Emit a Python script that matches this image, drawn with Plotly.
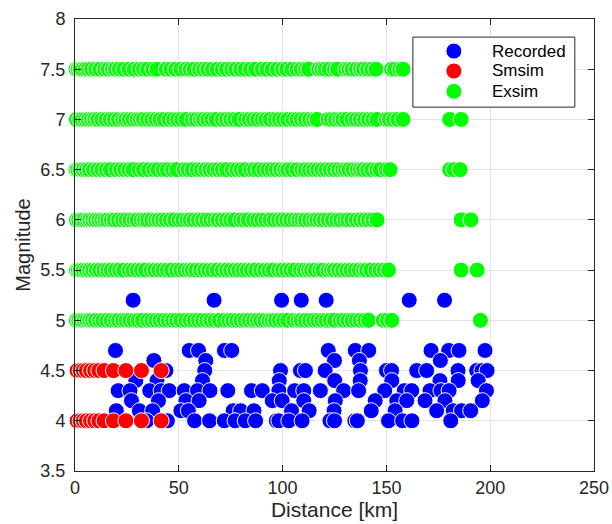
import plotly.graph_objects as go

# ---- Recorded events: distance (km) per magnitude ----
rec_m52 = [28, 67, 99.5, 109, 121, 161, 178]
rec_m47 = [19.5, 55, 59.5, 72, 75.5, 122, 135, 141.5, 171.5, 180, 185, 197.5]
rec_m46 = [38, 63, 125, 137, 176]
rec_m45 = [43.8, 62.5, 99, 108.6, 111, 120.5, 137.5, 150, 152.5, 164.6, 169.4, 184.5, 193.5, 196, 198.5]
rec_m44 = [29.3, 39.5, 61.4, 98.4, 125.1, 137.4, 152.6, 175.8, 184.6, 194.2]
rec_m43 = [20.8, 26.5, 36, 41.5, 45.4, 52.6, 59, 65, 73.6, 85, 90.2, 98.2, 105.8, 110.2, 118.2,
           129.4, 136.6, 149.2, 158.6, 162.2, 171, 176.3, 180.2, 198.2]
rec_m42 = [27.2, 40.2, 53.4, 59.8, 95, 99.8, 110.2, 125.4, 144.6, 155, 159.8, 168.6, 178.2, 196.2]
rec_m41 = [19.9, 31, 37.4, 51, 54.6, 76.2, 79.8, 86.2, 104.3, 112.8, 124.8, 142.7, 154.2, 174.2,
           182.2, 186.2, 190.6]
rec_m40 = [34.5, 44.5, 57.6, 64.8, 71.9, 77.1, 82, 87, 97, 98.2, 103, 109.4, 122.8, 125, 134.8, 136,
           151, 157.8, 162.3, 181]

# ---- Smsim simulations ----
sms_dist = [1, 2.5, 4, 5.5, 7.5, 9.5, 11.5, 14, 18.5, 24.5, 32, 41.5]
sms_mags = [4.0, 4.5]

# ---- Exsim simulations ----
exs_m75 = [0.5, 1.5, 2.5, 3.5, 5, 6.5, 8, 10, 12, 14.3, 16, 18, 19.5, 21.4, 23.5, 26, 28.5, 31, 33,
           35, 37.5, 39.5, 44, 46.2, 48.5, 51, 53.5, 55.5, 57.4, 60, 62, 64, 66.2, 68.5, 71, 73, 75.5,
           77.5, 79.8, 82, 84.5, 87, 90.2, 92.5, 95, 97.5, 100, 102, 104.5, 107, 109, 111, 112.5,
           117.4, 119, 120.5, 122.5, 125, 126.5, 130.5, 132, 133.5, 135.5, 137.5, 139, 141, 143, 145,
           152.5, 154, 156.5, 158]
exs_m70 = [0.7, 2.3, 3.5, 5, 6.5, 8, 9.5, 11, 13, 15, 17, 19, 21, 23, 24.5, 26.2, 28, 30, 31.5, 33,
           35, 37, 39, 41, 43, 45.4, 47.5, 49.5, 51.5, 53.5, 56.6, 58.5, 60.5, 62, 64, 66, 68, 71, 73,
           75, 77, 79, 82.2, 84, 86, 88, 90.2, 92, 94, 96.6, 98.5, 100.5, 102.5, 105, 107, 109, 111,
           113, 115, 116.6, 122, 123.5, 125.5, 127.5, 129, 131, 133.5, 135.5, 137.5, 139.5, 141.5,
           143.5, 145.5, 150, 151.5, 153.5, 155.5, 158, 180.5, 186]
exs_m65 = [0.5, 1.4, 2.5, 4, 5.5, 7, 9, 11, 13, 15, 17, 19.9, 22, 24, 26, 28, 31, 33, 35.5, 38, 40,
           42.5, 44.5, 47, 49, 52.6, 54.5, 56.5, 59, 61, 63, 65, 67, 69, 71, 73, 75.8, 78, 80, 82,
           84.6, 86.5, 88.5, 91, 93, 95, 97, 99, 101, 102.5, 104.6, 107, 109.4, 111, 113, 115, 117,
           119, 121, 123, 125, 127, 129, 130.5, 132, 134, 136, 137.5, 139, 141, 143, 145.4, 147, 150,
           151.8, 180.5, 182.5, 185.5]
exs_m60 = [0.7, 1.8, 3, 4.5, 6, 7.2, 8.6, 10, 11.5, 13, 14.5, 15.8, 17.5, 19, 21, 23, 24.7, 26.5,
           28.5, 30, 32, 33.5, 35, 37, 39, 40.5, 42.2, 44, 46, 48, 50.2, 52, 54, 55.5, 57.4, 59.5,
           61.5, 63.5, 65.5, 67.5, 69, 71, 73, 75, 77, 79.8, 81.5, 83.5, 86, 88, 90, 92, 94, 96, 98.2,
           100, 102, 104, 106, 107.8, 109.4, 111, 113, 115, 116.5, 118.2, 120, 122, 124, 126.2, 128,
           130, 131.5, 133.4, 135.5, 137.5, 139.5, 141.4, 143.5, 145.5, 186, 190.7]
exs_m55 = [0.7, 1.6, 2.6, 4, 5.5, 7, 8.6, 10.3, 12, 14, 15.8, 17.5, 19.5, 21.5, 23.5, 26.2, 28, 30,
           32, 34, 36.7, 38.5, 40.5, 42.5, 44.5, 46.5, 49, 51, 53, 55, 56.5, 58.3, 60.5, 62.5, 64.5,
           66.5, 68.5, 71, 73, 75, 77, 79, 81, 83, 85, 87, 89.4, 91.5, 93.5, 95.5, 98.2, 100, 102, 104,
           106, 108.6, 110.5, 112.5, 114, 115.8, 118, 119.5, 121.9, 123.5, 125, 127, 129, 131, 133,
           135, 137, 139, 140.5, 142.5, 145, 147, 149, 151, 186, 193.7]
exs_m50 = [0.7, 1.8, 3, 4.5, 5.8, 7.1, 8.5, 10, 11.9, 13.5, 15.5, 17.5, 19.5, 21, 23, 24.7, 26.5,
           28.5, 30.5, 32.5, 35, 37, 39, 41, 43, 45, 47, 49, 51, 53.4, 55.5, 57.5, 59.5, 61.5, 63.5,
           65.4, 67.5, 69.5, 72, 74.2, 76, 78, 80, 82, 84, 86, 87.8, 89.5, 91.5, 93.5, 95, 96.6, 98.5,
           100.5, 102.5, 105.4, 107.5, 109, 111, 113, 115, 117, 119, 121, 123, 125, 127.8, 129.5,
           131.5, 133.5, 135.5, 137.4, 139.5, 141.4, 148.5, 150.5, 152.6, 195.3]

x_ticks = [0, 50, 100, 150, 200, 250]
y_ticks = [3.5, 4, 4.5, 5, 5.5, 6, 6.5, 7, 7.5, 8]

series_names = ["Recorded", "Smsim", "Exsim"]
series_colors = ["#0000ff", "#ff0000", "#00ff00"]


def flatten(groups):
    xs, ys = [], []
    for mag, dists in groups:
        xs.extend(dists)
        ys.extend([mag] * len(dists))
    return xs, ys


rec_x, rec_y = flatten([(5.2, rec_m52), (4.7, rec_m47), (4.6, rec_m46), (4.5, rec_m45),
                        (4.4, rec_m44), (4.3, rec_m43), (4.2, rec_m42), (4.1, rec_m41),
                        (4.0, rec_m40)])
sms_x, sms_y = flatten([(m, sms_dist) for m in sms_mags])
exs_x, exs_y = flatten([(7.5, exs_m75), (7.0, exs_m70), (6.5, exs_m65), (6.0, exs_m60),
                        (5.5, exs_m55), (5.0, exs_m50)])

FONT = "Liberation Sans, Arial, Helvetica, sans-serif"
AXIS_COLOR = "#262626"
GRID_COLOR = "#e3e3e3"
MSIZE = 16


def marker(color):
    return dict(color=color, size=MSIZE, line=dict(color="white", width=1))


fig = go.Figure()
for name, color, xs, ys in zip(series_names, series_colors,
                               [rec_x, sms_x, exs_x], [rec_y, sms_y, exs_y]):
    fig.add_trace(go.Scatter(x=xs, y=ys, mode="markers", name=name, cliponaxis=False,
                             marker=marker(color), showlegend=False))

# Legend box drawn on an overlay axis spanning the plot area (0..1 in both directions)
box_x0, box_x1, box_y0, box_y1 = 0.651, 0.963, 0.805, 0.960
fig.add_trace(go.Scatter(
    x=[box_x0, box_x1, box_x1, box_x0, box_x0],
    y=[box_y0, box_y0, box_y1, box_y1, box_y0],
    mode="lines", fill="toself", fillcolor="white",
    line=dict(color=AXIS_COLOR, width=1),
    xaxis="x2", yaxis="y2", hoverinfo="skip", showlegend=False,
))
entry_y = [0.929, 0.885, 0.840]
fig.add_trace(go.Scatter(
    x=[0.730] * 3, y=entry_y, mode="markers",
    marker=dict(color=series_colors, size=MSIZE, line=dict(color="white", width=1)),
    xaxis="x2", yaxis="y2", hoverinfo="skip", showlegend=False,
))
for name, ey in zip(series_names, entry_y):
    fig.add_annotation(x=0.800, y=ey, xref="paper", yref="paper", text=name,
                       showarrow=False, xanchor="left", yanchor="middle",
                       font=dict(family=FONT, size=17, color="black"))

axis_common = dict(
    showline=True, linecolor=AXIS_COLOR, linewidth=1, mirror="allticks",
    ticks="inside", ticklen=6, tickcolor=AXIS_COLOR, tickwidth=1,
    showgrid=True, gridcolor=GRID_COLOR, gridwidth=1, zeroline=False,
    automargin=False,
    tickfont=dict(family=FONT, size=18, color=AXIS_COLOR),
)

fig.update_layout(
    width=612, height=524,
    margin=dict(l=75, r=18, t=19, b=53),
    paper_bgcolor="white", plot_bgcolor="white",
    font=dict(family=FONT, color=AXIS_COLOR),
    showlegend=False,
    xaxis=dict(range=[0, 250], tickvals=x_ticks, ticklabelstandoff=0,
               title=dict(text="Distance [km]", font=dict(family=FONT, size=21, color=AXIS_COLOR),
                          standoff=2),
               **axis_common),
    yaxis=dict(range=[3.5, 8], tickvals=y_ticks, ticktext=[f"{v:g}" for v in y_ticks],
               ticklabelstandoff=5,
               title=dict(text="Magnitude", font=dict(family=FONT, size=20, color=AXIS_COLOR),
                          standoff=4),
               **axis_common),
    xaxis2=dict(overlaying="x", range=[0, 1], visible=False, fixedrange=True),
    yaxis2=dict(overlaying="y", range=[0, 1], visible=False, fixedrange=True),
)

fig.write_html("out.html")
